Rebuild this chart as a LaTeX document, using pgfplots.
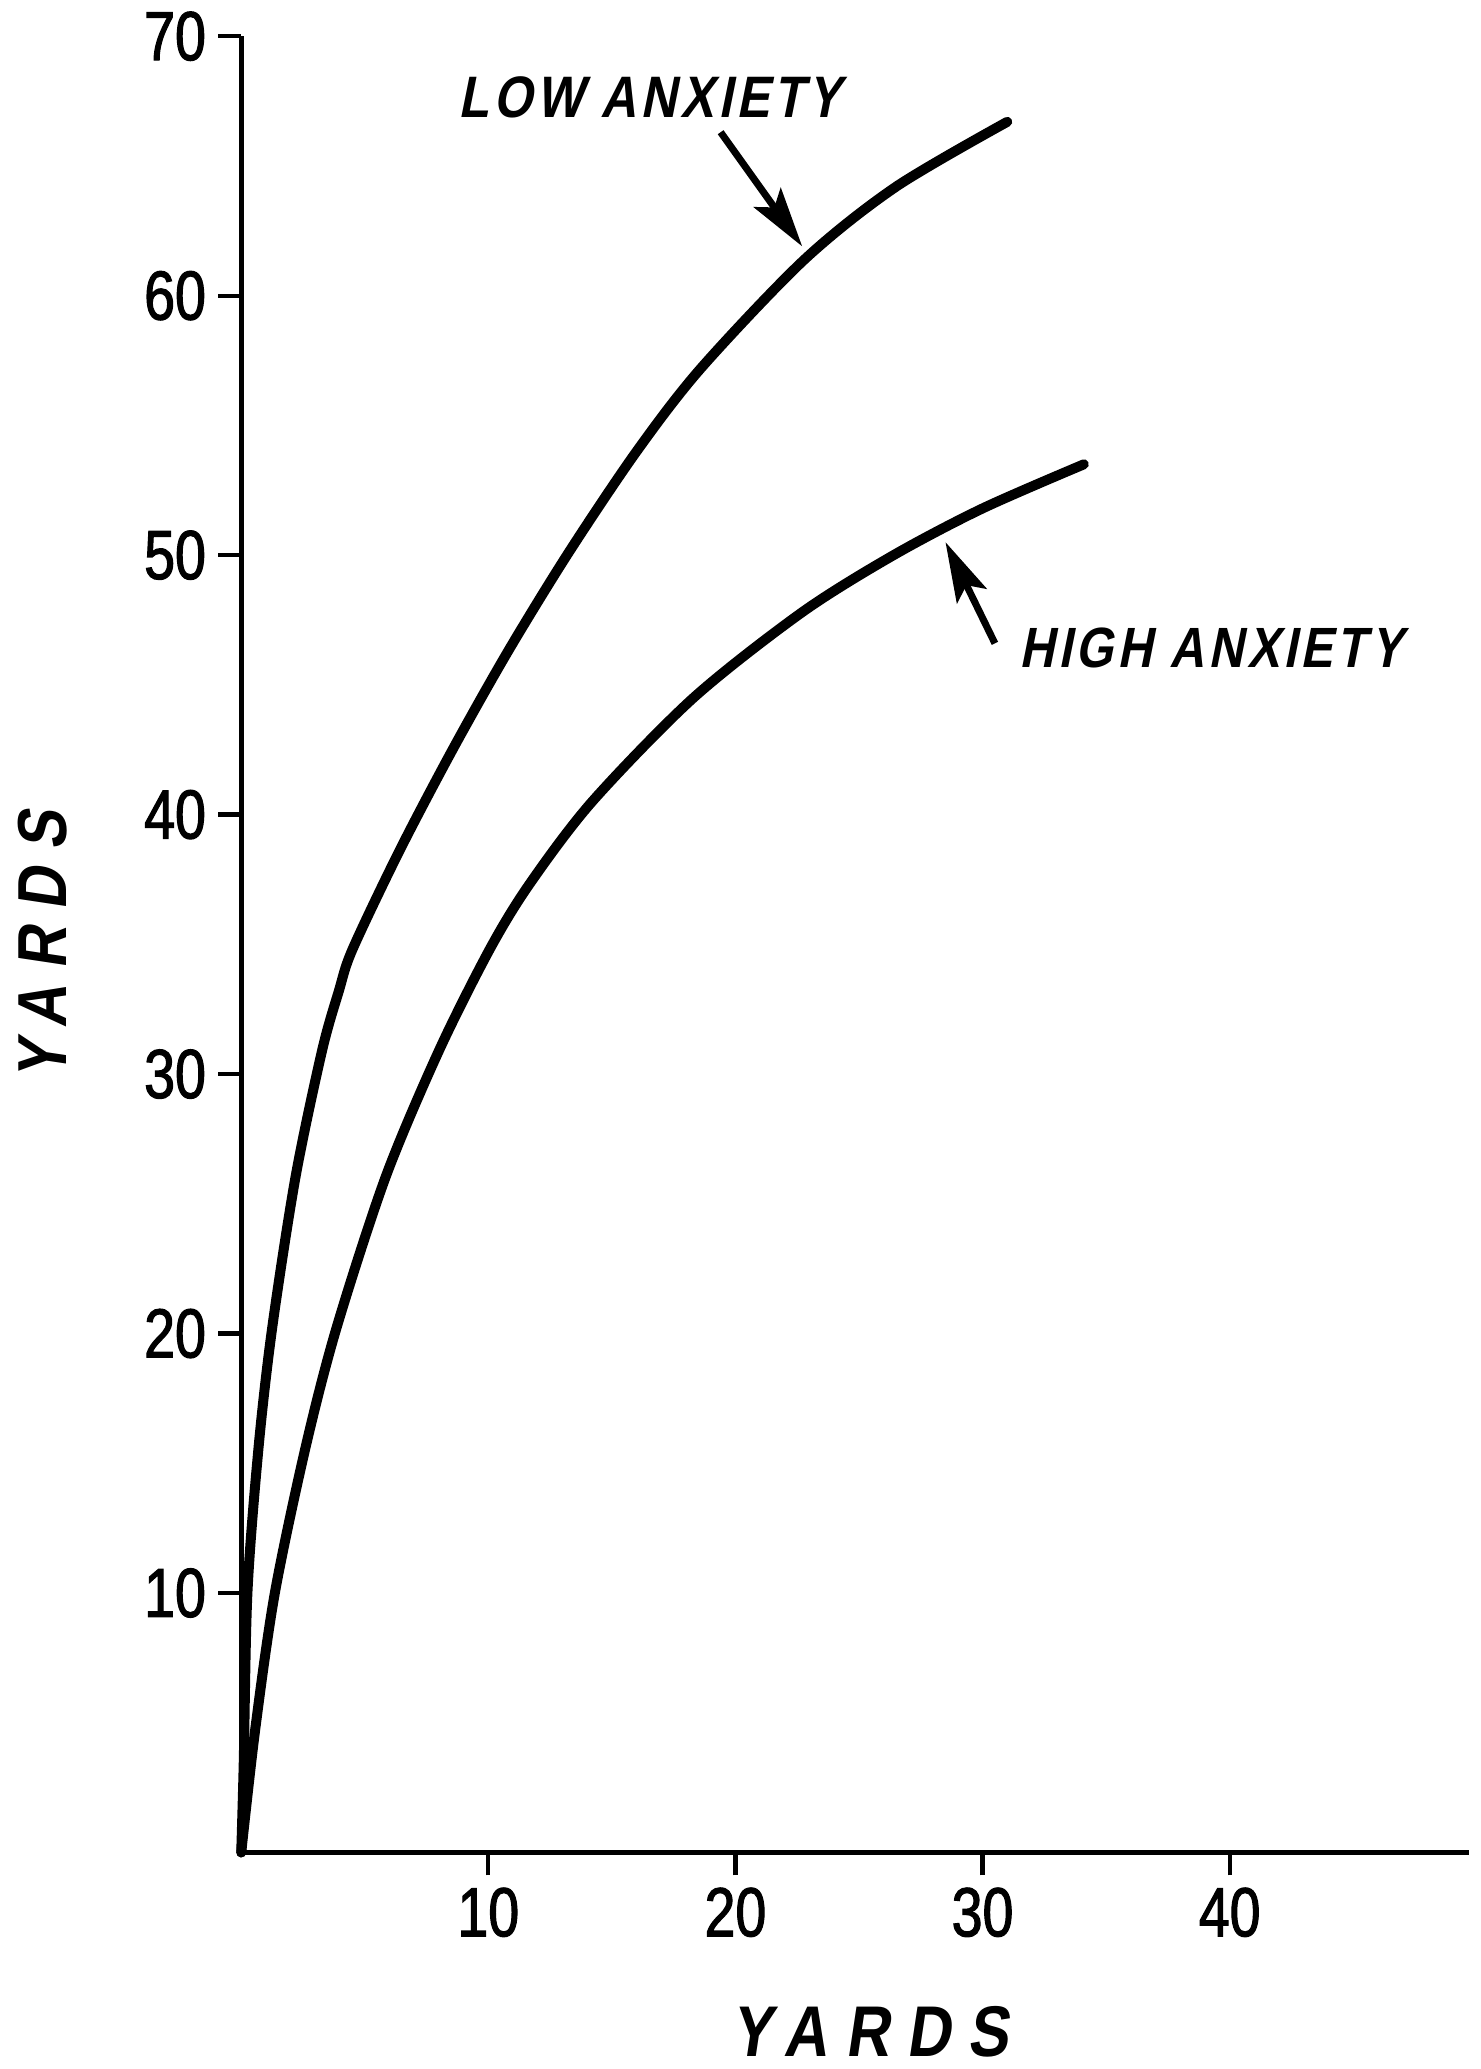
\documentclass[border=0pt]{standalone}
\usepackage{fontspec}
\setmainfont{Liberation Sans}
\newfontfamily\tickfont[FakeStretch=0.8,FakeBold=1.6]{Liberation Sans}
\newfontfamily\labfont[FakeStretch=0.85,FakeSlant=0.2,LetterSpace=7]{Liberation Sans}
\newfontfamily\axlabfont[FakeStretch=0.85,FakeSlant=0.15,LetterSpace=24]{Liberation Sans}
\usepackage{pgfplots}
\pgfplotsset{compat=1.18}
\usetikzlibrary{arrows.meta}
\begin{document}
\begin{tikzpicture}
\begin{axis}[
  scale only axis, width=12.32cm, height=18.22cm,
  xmin=0, xmax=49.7, ymin=0, ymax=70,
  axis x line*=bottom, axis y line*=left,
  axis line style={line width=1.3pt, -},
  xtick={10,20,30,40}, ytick={10,20,30,40,50,60,70},
  tick align=outside, major tick length=0.23cm,
  tick style={line width=1.2pt, black},
  ticklabel style={font=\tickfont\fontsize{19.8}{20}\selectfont},
  /pgf/number format/assume math mode=true,
  xlabel={YARDS}, ylabel={YARDS},
  xlabel style={font=\axlabfont\bfseries\fontsize{20.5}{21}\selectfont, at={(axis description cs:0.512,-0.0988)}, anchor=center},
  ylabel style={font=\axlabfont\bfseries\fontsize{19.8}{20}\selectfont, at={(axis description cs:-0.162,0.4995)}, anchor=center},
  clip=false,
]
\addplot[black, line width=2.85pt, smooth, line cap=round, line join=round] coordinates {
 (0,0) (0.1,3.4) (0.25,10) (0.7,15.6) (1.25,20.2) (2.2,26.05) (3.27,30.9) (3.95,33.2) (4.5,34.8)
 (6.4,38.6) (8.55,42.5) (10.8,46.3) (13.25,50.1) (16.0,54.0) (18.6,57.2) (22.8,61.4) (26.5,64.2) (31.0,66.7)
};
\addplot[black, line width=2.85pt, smooth, line cap=round, line join=round] coordinates {
 (0,0) (0.56,4.7) (1.36,10) (2.6,15.6) (3.85,20.2) (5.85,26.05) (8.0,30.9) (10.05,34.8) (11.65,37.3)
 (14.2,40.5) (18.3,44.5) (22.7,47.8) (26.4,50.0) (30.0,51.8) (34.1,53.5)
};
\coordinate (O) at (axis cs:0,0);
\draw[line width=2pt, -{Stealth[length=6mm,width=3.3mm,inset=1.2mm]}] (axis cs:19.4,66.3) -- (axis cs:22.7,61.9);
\draw[line width=2pt, -{Stealth[length=6mm,width=3.3mm,inset=1.2mm]}] (axis cs:30.5,46.6) -- (axis cs:28.5,50.5);
\node[font=\labfont\bfseries\fontsize{16.7}{17}\selectfont, anchor=center] at (axis cs:16.54,67.65) {LOW ANXIETY};
\node[font=\labfont\bfseries\fontsize{16.2}{17}\selectfont, anchor=center] at (axis cs:39.25,46.41) {HIGH ANXIETY};
\end{axis}
\path (O) ++(-2.42cm,-2.14cm) rectangle ++(14.85cm,20.69cm);
\end{tikzpicture}
\end{document}
